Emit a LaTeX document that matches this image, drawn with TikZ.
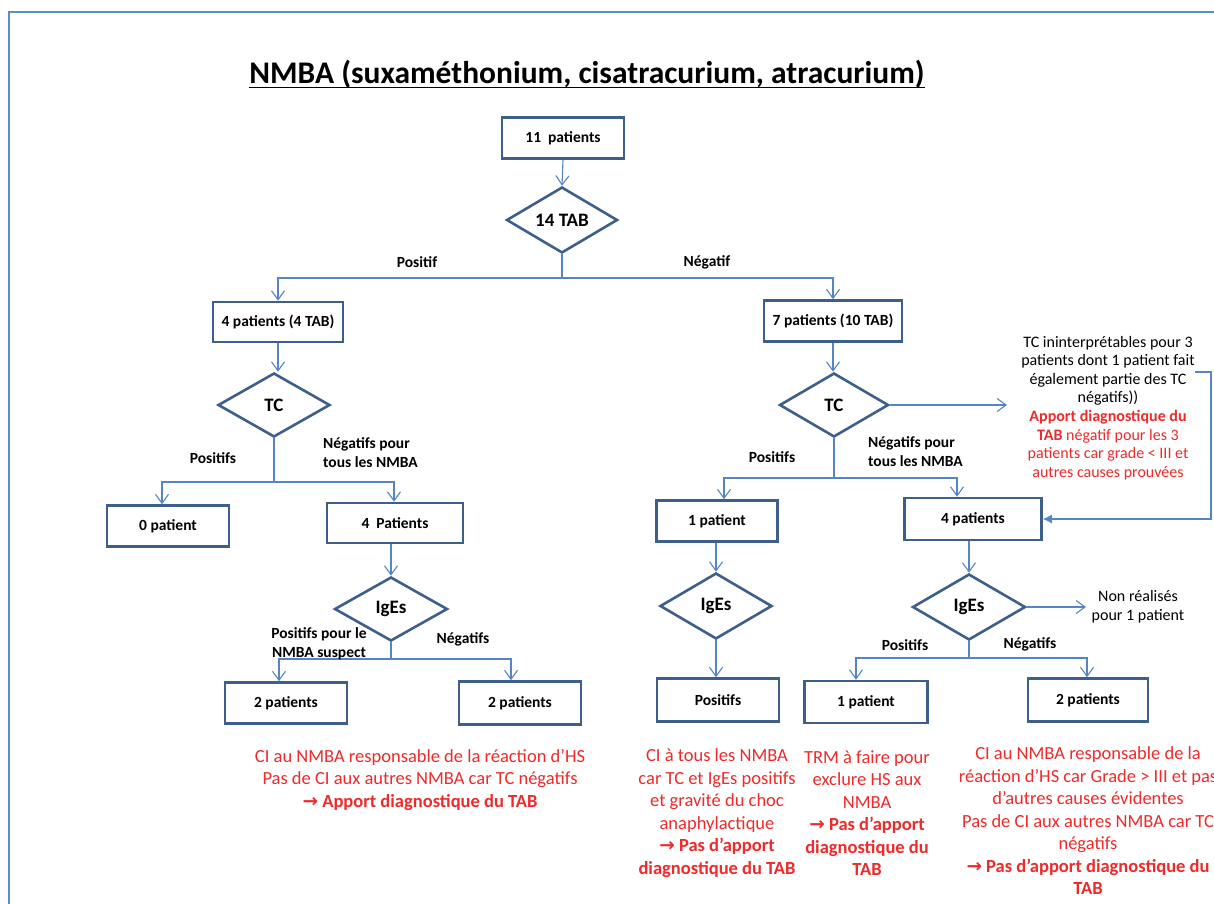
\documentclass[tikz,border=0pt]{standalone}
\usepackage{fontspec}
\setmainfont{Carlito}
\newfontfamily\dejavu{DejaVu Sans}
\usetikzlibrary{shapes.geometric,arrows.meta}
\definecolor{boxc}{HTML}{3D5F8C}
\definecolor{linec}{HTML}{5585C5}
\definecolor{redc}{HTML}{EE2A2A}
\definecolor{framec}{HTML}{5B8BD6}
\newcommand{\rarr}{{\dejavu\bfseries →}}
\tikzset{
  box/.style={draw=boxc, line width=2.6pt, rectangle, inner sep=1pt, font=\fontsize{15.5}{18}\selectfont\bfseries},
  dia/.style={draw=boxc, line width=2.6pt, diamond, inner sep=0pt, font=\fontsize{19}{22}\selectfont\bfseries},
  conn/.style={draw=linec, line width=1.1pt, -{Straight Barb[length=9pt,width=13pt]}},
  plainline/.style={draw=linec, line width=1.1pt},
  fillarrow/.style={draw=linec, line width=1.1pt, -{Latex[length=9pt,width=9pt]}},
  lbl/.style={font=\fontsize{15.5}{19}\selectfont\bfseries, inner sep=0pt, align=left},
  redtxt/.style={text=redc, font=\fontsize{18.5}{22.5}\selectfont, align=center, inner sep=0pt},
  notetxt/.style={font=\fontsize{16}{18.6}\selectfont, align=center, inner sep=0pt},
}
\begin{document}
\begin{tikzpicture}[x=1pt,y=-1pt]
\clip (0,0) rectangle (1214,903);
\fill[white] (0,0) rectangle (1214,903);
% frame
\draw[framec, line width=2pt] (9,910) -- (9,12) -- (1220,12);
% title
\node[inner sep=0pt, anchor=base, font=\fontsize{31.5}{36}\selectfont\bfseries] (title) at (587,83) {NMBA (suxaméthonium, cisatracurium, atracurium)};
\draw[line width=1.8pt] ([yshift=-4.5pt]title.base west) -- ([yshift=-4.5pt]title.base east);

% nodes
\node[box, minimum width=122pt, minimum height=41pt] (n11) at (563,138) {11\ \ patients};
\node[dia, minimum width=111pt, minimum height=66pt] (d14) at (562,220) {14 TAB};
\node[box, minimum width=130pt, minimum height=40pt] (p4) at (278,322) {4 patients (4 TAB)};
\node[box, minimum width=138pt, minimum height=41pt] (p7) at (833,321) {7 patients (10 TAB)};
\node[dia, minimum width=112pt, minimum height=64pt] (tcL) at (274,405) {TC};
\node[dia, minimum width=109pt, minimum height=64pt] (tcR) at (834,405) {TC};
\node[box, minimum width=122pt, minimum height=41pt] (z0) at (168,526) {0 patient};
\node[box, minimum width=136pt, minimum height=40pt] (p4b) at (395,523) {4\ \ Patients};
\node[dia, minimum width=113pt, minimum height=64pt] (igL) at (391,609) {IgEs};
\node[box, minimum width=122pt, minimum height=41pt] (b2a) at (286,703) {2 patients};
\node[box, minimum width=122pt, minimum height=43pt] (b2b) at (520,703) {2 patients};
\node[box, minimum width=121pt, minimum height=41pt] (p1) at (717,521) {1 patient};
\node[box, minimum width=137pt, minimum height=42pt] (p4c) at (973,519) {4 patients};
\node[dia, minimum width=112pt, minimum height=66pt] (igM) at (716,606) {IgEs};
\node[dia, minimum width=113pt, minimum height=66pt] (igR) at (969,607) {IgEs};
\node[box, minimum width=122pt, minimum height=43pt] (pos) at (718,700) {Positifs};
\node[box, minimum width=123pt, minimum height=42pt] (r1) at (866,702) {1 patient};
\node[box, minimum width=120pt, minimum height=43pt] (r2) at (1088,700) {2 patients};

% junction coordinates
\coordinate (jTop) at (562,278);
\coordinate (jL) at (274,482);
\coordinate (jL2) at (391,659);
\coordinate (jR) at (834,478);
\coordinate (jR2) at (969,658);
\coordinate (tcOut) at (1007,405);
\coordinate (igOut) at (1086,607);
\coordinate (nStart) at (1195,372);
\coordinate (nCorner) at (1211,372);

% connectors
\draw[conn] (n11.south) -- (d14.north);
\draw[plainline] (d14.south) -- (jTop);
\draw[conn] (jTop) -| (p4.north);
\draw[conn] (jTop) -| (p7.north);
\draw[conn] (p4.south) -- (p4.south |- tcL.north);
\draw[plainline] (tcL.south) -- (jL);
\draw[conn] (jL) -| ([xshift=-6pt]z0.north);
\draw[conn] (jL) -| ([xshift=-1pt]p4b.north);
\draw[conn] (p4b.south -| igL.north) -- (igL.north);
\draw[plainline] (igL.south) -- (jL2);
\draw[conn] (jL2) -| ([xshift=-7pt]b2a.north);
\draw[conn] (jL2) -| ([xshift=-9pt]b2b.north);
\draw[conn] (p7.south) -- (p7.south |- tcR.north);
\draw[plainline] (tcR.south) -- (jR);
\draw[conn] (jR) -| ([xshift=7pt]p1.north);
\draw[conn] (jR) -| ([xshift=-16pt]p4c.north);
\draw[conn] (tcR.east) -- (tcOut);
\draw[fillarrow] (nStart) -- (nCorner) |- (p4c.east);
\draw[conn] (p1.south -| igM.north) -- (igM.north);
\draw[conn] (igM.south) -- (igM.south |- pos.north);
\draw[conn] (p4c.south -| igR.north) -- (igR.north);
\draw[conn] (igR.east) -- (igOut);
\draw[plainline] (igR.south) -- (jR2);
\draw[conn] (jR2) -| ([xshift=-10pt]r1.north);
\draw[conn] (jR2) -| ([xshift=-1pt]r2.north);

% branch labels
\node[lbl] (lPos) at (417,262) {Positif};
\node[lbl] (lNeg) at (707,262) {Négatif};
\node[lbl] (lPosL) at (213,458) {Positifs};
\node[lbl, anchor=west] (lNegL) at (323,453) {Négatifs pour\\tous les NMBA};
\node[lbl] (lPosR) at (772,457) {Positifs};
\node[lbl, anchor=west] (lNegR) at (868,452) {Négatifs pour\\tous les NMBA};
\node[lbl, align=center] (lPosIg) at (319,644) {Positifs pour le\\NMBA suspect};
\node[lbl] (lNegIg) at (463,639) {Négatifs};
\node[lbl] (lPosIgR) at (905,645) {Positifs};
\node[lbl] (lNegIgR) at (1030,644) {Négatifs};

% side notes
\node[notetxt] (note) at (1108,408) {TC ininterprétables pour 3\\patients dont 1 patient fait\\également partie des TC\\négatifs))\\\textcolor{redc}{\bfseries Apport diagnostique du}\\\textcolor{redc}{{\bfseries TAB} négatif pour les 3}\\\textcolor{redc}{patients car grade < III et}\\\textcolor{redc}{autres causes prouvées}};
\node[notetxt] (nonr) at (1138,607) {Non réalisés\\pour 1 patient};

% red conclusions
\node[redtxt] (cL) at (420,780) {CI au NMBA responsable de la réaction d’HS\\Pas de CI aux autres NMBA car TC négatifs\\{\rarr\ \bfseries Apport diagnostique du TAB}};
\node[redtxt] (cM1) at (717,813) {CI à tous les NMBA\\car TC et IgEs positifs\\et gravité du choc\\anaphylactique\\{\rarr\ \bfseries Pas d’apport}\\{\bfseries diagnostique du TAB}};
\node[redtxt] (cM2) at (867,813) {TRM à faire pour\\exclure HS aux\\NMBA\\{\rarr\ \bfseries Pas d’apport}\\{\bfseries diagnostique du}\\{\bfseries TAB}};
\node[redtxt] (cR) at (1088,821) {CI au NMBA responsable de la\\réaction d’HS car Grade > III et pas\\d’autres causes évidentes\\Pas de CI aux autres NMBA car TC\\négatifs\\{\rarr\ \bfseries Pas d’apport diagnostique du}\\{\bfseries TAB}};
\end{tikzpicture}
\end{document}
